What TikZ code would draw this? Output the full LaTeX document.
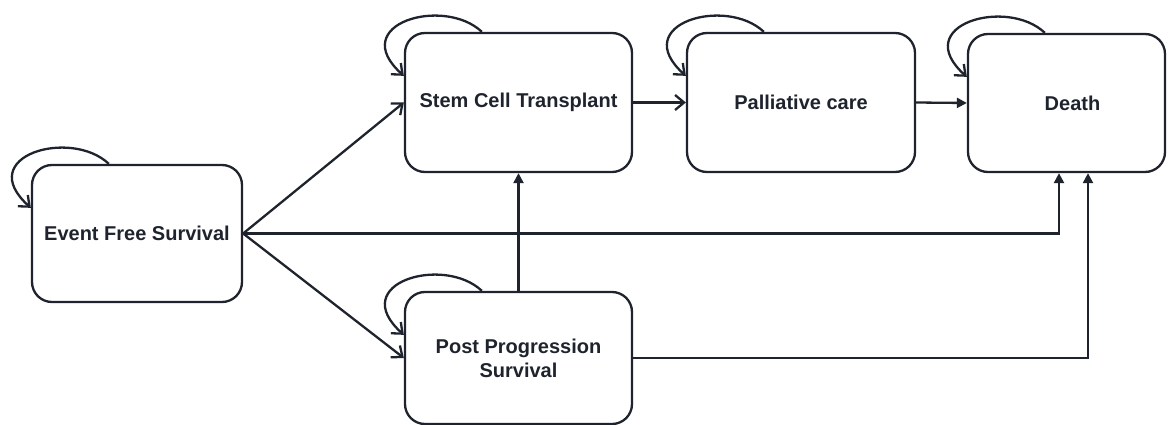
\documentclass[tikz,border=0pt]{standalone}
\usepackage{fontspec}
\setmainfont{Liberation Sans}
\usetikzlibrary{arrows.meta,calc}
\definecolor{ink}{RGB}{30,35,45}
\begin{document}
\begin{tikzpicture}[x=1pt,y=-1pt,
  state/.style={draw=ink, rounded corners=20pt, line width=2.3pt, align=center,
    font=\fontsize{20}{24}\selectfont\bfseries, text=ink, inner sep=0pt},
  openarrow/.style={draw=ink, line width=2.3pt, -{Straight Barb[length=9pt,width=15pt,line width=2.3pt]}},
  filledarrow/.style={draw=ink, line width=2.3pt, -{Triangle[length=10pt,width=10pt]}},
  selfloop/.style={openarrow}]
\useasboundingbox (0,0) rectangle (1168,425);
\node[state, minimum width=210pt, minimum height=137pt] (efs) at (137,233.5) {Event Free Survival};
\node[state, minimum width=227pt, minimum height=139pt] (sct) at (518.5,102.5) {Stem Cell Transplant};
\node[state, minimum width=228pt, minimum height=139pt] (pal) at (801,102.5) {Palliative care};
\node[state, minimum width=197pt, minimum height=138pt] (death) at (1066.5,103) {\hspace*{12pt}Death};
\node[state, minimum width=227pt, minimum height=132pt] (pps) at (518.5,358) {Post Progression\\Survival};
\foreach \n in {efs,sct,pal,death,pps}
  \draw[selfloop] ($(\n.north west)+(78,0)$) .. controls ($(\n.north west)+(40,-36)$) and ($(\n.north west)+(-58,-8)$) .. ($(\n.north west)+(0,44)$);
\draw[openarrow] (efs.east) -- (sct.west);
\draw[openarrow] (efs.east) -- (pps.west);
\draw[filledarrow] (efs.east) -| ($(death.south)+(-7.5,0)$);
\draw[filledarrow] (pps.east) -| ($(death.south)+(21.5,0)$);
\draw[filledarrow] (pps.north) -- (sct.south);
\draw[openarrow] (sct.east) -- (pal.west);
\draw[filledarrow] (pal.east) -- (death.west);
\end{tikzpicture}
\end{document}
